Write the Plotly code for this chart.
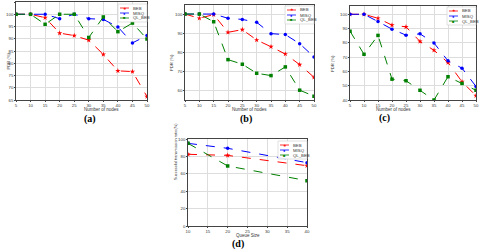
import plotly.graph_objects as go

nodes = [5, 10, 15, 20, 25, 30, 35, 40, 45, 50]
queue = [10, 20, 40]
series_names = ["BEB", "MISQ", "QL_BEB"]

a_beb = [100, 100, 98.6, 92.3, 91.3, 89.4, 83.6, 76.9, 76.6, 66.4]
a_misq = [100, 100, 100, 98.2, 100, 98.2, 97.9, 94.8, 88.3, 91.3]
a_ql = [100, 100, 95.9, 100, 100, 90.5, 98.9, 92.9, 96.4, 89.9]

b_beb = [100, 97.8, 99.7, 90.5, 91.9, 86.5, 83.0, 79.2, 73.7, 67.1]
b_misq = [100, 100, 100, 97.8, 97.2, 95.7, 89.8, 89.3, 84.6, 77.7]
b_ql = [100, 100, 96.0, 76.3, 73.9, 69.2, 68.0, 72.5, 60.4, 57.3]

c_beb = [100, 100, 97.2, 92.4, 91.2, 81.0, 74.8, 66.2, 52.8, 43.0]
c_misq = [100, 100, 94.9, 89.6, 85.4, 86.3, 79.9, 67.4, 62.3, 49.5]
c_ql = [88.2, 72.0, 85.2, 54.6, 53.5, 46.8, 40.0, 56.3, 51.6, 46.8]

d_beb = [82.4, 81.2, 69.3]
d_misq = [95.0, 89.3, 72.8]
d_ql = [95.0, 69.0, 52.1]

colors = ["#ff0000", "#0000ff", "#008000"]
symbols = ["star", "circle", "square"]
sym_chars = ["\u2605", "\u25CF", "\u25A0"]
msizes = [4, 3.5, 3.5]

panels = [
    dict(x=nodes, ys=[a_beb, a_misq, a_ql], xd=[16, 147], yd=[2, 100], xr=[5, 50], yr=[65, 105],
         dt=5, label="(a)", lab_xy=(82, 118.5), xt="Number of nodes", xt_y=109.5, yt="PDR (%)", yt_x=3.5,
         leg=(118, 4), ytfs=4.2),
    dict(x=nodes, ys=[b_beb, b_misq, b_ql], xd=[185, 314], yd=[5, 100], xr=[5, 50], yr=[55.3, 104.7],
         dt=10, label="(b)", lab_xy=(246, 119), xt="Number of nodes", xt_y=109.5, yt="PDR (%)", yt_x=171,
         leg=(285, 6), ytfs=4.2),
    dict(x=nodes, ys=[c_beb, c_misq, c_ql], xd=[350, 476], yd=[6, 100], xr=[5, 50], yr=[40, 105.8],
         dt=10, label="(c)", lab_xy=(392, 118), xt="Number of nodes", xt_y=109.5, yt="PDR (%)", yt_x=337,
         leg=(447, 7), ytfs=4.2),
    dict(x=queue, ys=[d_beb, d_misq, d_ql], xd=[188, 307], yd=[139, 226], xr=[10, 40], yr=[0, 100],
         dt=20, label="(d)", lab_xy=(238, 244), xt="Queue Size", xt_y=235.5,
         yt="Successful transmission ratio(%)", yt_x=175, leg=(278, 141), ytfs=3.9),
]

W, H = 480, 252
LW, LH = 29, 18
FONT = "Liberation Sans"
fig = go.Figure()
layout = dict(width=W, height=H, margin=dict(l=0, r=0, t=0, b=0, autoexpand=False),
              paper_bgcolor="white", plot_bgcolor="white", showlegend=False,
              font=dict(family=FONT, size=4.5, color="#333"))
annotations = []
shapes = []
for i, p in enumerate(panels):
    k = "" if i == 0 else str(i + 1)
    for j in range(3):
        fig.add_trace(go.Scatter(
            x=p["x"], y=p["ys"][j], name=series_names[j], mode="lines+markers",
            line=dict(color=colors[j], width=1, dash="dash"),
            marker=dict(symbol=symbols[j], size=msizes[j], color=colors[j]),
            xaxis="x" + k, yaxis="y" + k))
    ax = dict(showline=True, mirror=True, linecolor="#444", linewidth=0.7, showgrid=True,
              gridcolor="#dddddd", gridwidth=0.6, zeroline=False, ticks="outside", ticklen=1,
              tickcolor="#444", tickfont=dict(family=FONT, size=4.3, color="#333"), automargin=False)
    layout["xaxis" + k] = dict(ax, domain=[p["xd"][0] / W, p["xd"][1] / W], range=p["xr"],
                               dtick=5, anchor="y" + k)
    layout["yaxis" + k] = dict(ax, domain=[1 - p["yd"][1] / H, 1 - p["yd"][0] / H], range=p["yr"],
                               dtick=p["dt"], anchor="x" + k)
    xc = (p["xd"][0] + p["xd"][1]) / 2
    annotations.append(dict(text=p["xt"], x=xc / W, y=1 - p["xt_y"] / H, xref="paper", yref="paper",
                            showarrow=False, yanchor="middle", font=dict(family=FONT, size=4.5, color="#333")))
    yc = (p["yd"][0] + p["yd"][1]) / 2
    annotations.append(dict(text=p["yt"], x=p["yt_x"] / W, y=1 - yc / H, xref="paper", yref="paper",
                            showarrow=False, textangle=-90,
                            font=dict(family=FONT, size=p["ytfs"], color="#333")))
    annotations.append(dict(text="<b>" + p["label"] + "</b>", x=p["lab_xy"][0] / W,
                            y=1 - p["lab_xy"][1] / H, xref="paper", yref="paper", showarrow=False,
                            yanchor="middle",
                            font=dict(family="Liberation Serif", size=10, color="black")))
    # legend box (manual, matplotlib-like)
    lx, ly = p["leg"]
    shapes.append(dict(type="rect", xref="paper", yref="paper", x0=lx / W, x1=(lx + LW) / W,
                       y0=1 - (ly + LH) / H, y1=1 - ly / H, line=dict(color="#cccccc", width=0.6),
                       fillcolor="rgba(255,255,255,0.9)", layer="above"))
    for j in range(3):
        ey = ly + 4 + j * 5
        shapes.append(dict(type="line", xref="paper", yref="paper", x0=(lx + 2) / W, x1=(lx + 11) / W,
                           y0=1 - ey / H, y1=1 - ey / H, line=dict(color=colors[j], width=0.8, dash="dash"),
                           layer="above"))
        annotations.append(dict(text=sym_chars[j], x=(lx + 6.5) / W, y=1 - ey / H, xref="paper",
                                yref="paper", showarrow=False, xanchor="center", yanchor="middle",
                                font=dict(size=4, color=colors[j])))
        annotations.append(dict(text=series_names[j], x=(lx + 13) / W, y=1 - ey / H, xref="paper",
                                yref="paper", showarrow=False, xanchor="left", yanchor="middle",
                                font=dict(family=FONT, size=4.3, color="#333")))
layout["annotations"] = annotations
layout["shapes"] = shapes
fig.update_layout(**layout)
fig.write_html("out.html", config={"displayModeBar": False},
               post_script="document.body.style.margin='0';document.body.style.overflow='hidden';")
